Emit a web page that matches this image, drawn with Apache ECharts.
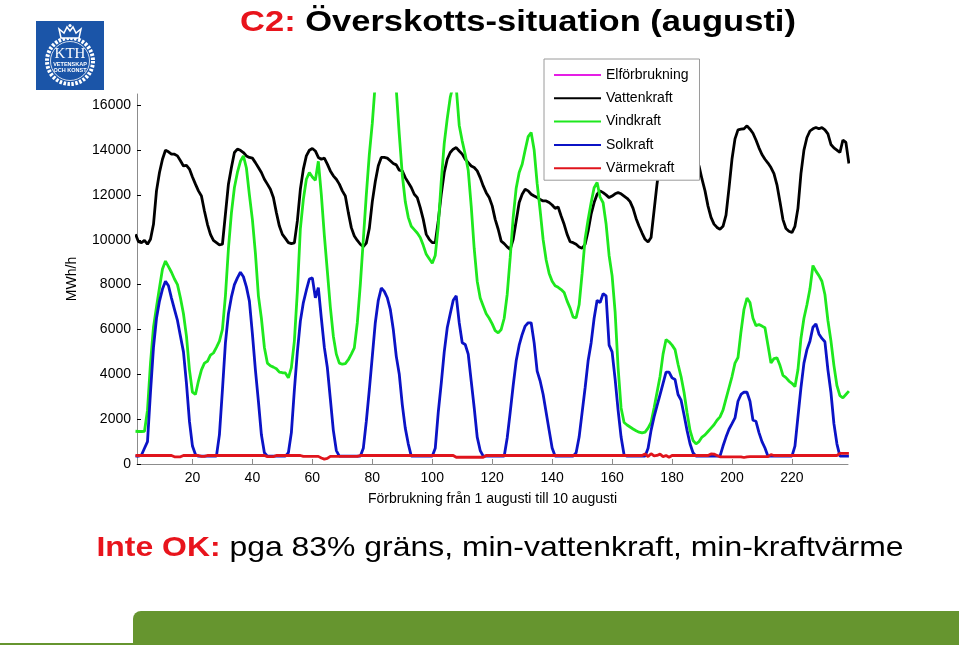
<!DOCTYPE html>
<html>
<head>
<meta charset="utf-8">
<script src="https://cdn.jsdelivr.net/npm/echarts@6.0.0/dist/echarts.min.js"></script>
<style>
html,body{margin:0;padding:0;background:#fff;}
#chart{width:959px;height:645px;}
</style>
</head>
<body>
<div id="chart"></div>
<script>
// ---- data (hourly values, 1 Aug – 10 Aug) ----
const seriesNames = ['Elförbrukning', 'Vattenkraft', 'Vindkraft', 'Solkraft', 'Värmekraft'];
const xTickValues = [20, 40, 60, 80, 100, 120, 140, 160, 180, 200, 220];
const yTickValues = [0, 2000, 4000, 6000, 8000, 10000, 12000, 14000, 16000];

const elforbrukning = [];

const vattenkraft = [
10240,9914,9870,9974,9800,10020,10690,12180,13000,13590,
13990,13920,13820,13815,13740,13520,13290,13320,13150,12800,
12480,12180,11950,11280,10690,10240,9970,9870,9770,9800,
11140,12480,13220,13890,14040,13990,13890,13740,13670,13640,
13440,13220,13000,12700,12480,12250,11880,11210,10610,10240,
10060,9870,9830,9860,10840,12250,13150,13740,13990,14070,
13960,13670,13590,13640,13370,13070,12850,12700,12480,12180,
11950,11210,10540,10170,9970,9800,9690,9850,10500,11700,
12600,13300,13670,13670,13640,13520,13400,13340,13100,13070,
12770,12550,12330,12030,11880,11430,10910,10240,10020,9870,
9870,10840,12030,13000,13590,13890,14040,14110,13960,13820,
13590,13440,13290,13220,13070,12770,12400,12100,11880,11510,
10910,10470,9940,9830,9680,9570,10020,10840,11660,12030,
12250,12180,12030,11950,11880,11800,11730,11730,11660,11550,
11400,11460,11060,10690,10240,9910,9870,9800,9680,9620,
9800,10390,11140,11660,12030,12180,12100,12000,11880,11950,
12050,12100,12050,11950,11850,11700,11400,10950,10600,10300,
10020,9900,10100,11300,12500,13500,14100,14350,14400,14300,
14100,13900,13800,13750,13700,13600,13500,13400,13300,12700,
12180,11500,11000,10700,10550,10470,10600,11100,12300,13600,
14500,14900,14930,14950,15080,14930,14750,14450,14100,13800,
13590,13420,13220,12950,12450,11700,10900,10500,10380,10320,
10600,11400,12950,14000,14560,14850,14950,15010,14950,15000,
14900,14720,14250,14100,14000,13890,14450,14340,13400];

const vindkraft = [
1460,1450,1450,1460,2400,4500,6100,7000,7860,8700,
9050,8800,8550,8250,8000,7400,6700,5700,4200,3200,
3100,3700,4200,4500,4580,4850,4950,5200,5480,6000,
7500,9600,11200,12330,13000,13500,13740,13200,12000,10900,
9400,7500,6500,5200,4500,4380,4320,4250,4100,4070,
4060,3840,4300,5480,7700,10500,11800,12700,13000,12800,
12650,13500,12000,10200,8600,7000,5700,4900,4500,4450,
4480,4650,4900,5180,6300,8000,10000,12000,13800,15200,
17000,18500,19500,20000,20000,19500,18500,16700,14700,12900,
11700,11000,10600,10450,10300,10100,9750,9350,9150,8950,
9300,10600,12600,14300,15400,16350,16900,16800,15100,14400,
13800,13100,11500,9600,8150,7400,7050,6700,6500,6250,
5950,5850,6000,6500,7560,9200,11000,12300,13000,13370,
14000,14600,14780,14000,12500,11300,10000,9100,8500,8150,
7950,7880,7780,7650,7265,6950,6550,6520,7100,8500,
10050,10900,11650,12320,12550,11900,11650,10700,9300,8400,
6800,4300,2500,1850,1740,1650,1560,1480,1420,1384,
1420,1600,1850,2500,3200,3900,4900,5550,5450,5300,
5100,4450,3900,3200,2300,1500,1050,900,1000,1200,
1300,1450,1600,1750,1950,2100,2400,2900,3400,3900,
4500,4750,5900,6900,7400,7200,6500,6170,6220,6150,
6073,5300,4500,4700,4734,4400,3950,3850,3700,3600,
3450,4200,5600,6500,7100,7800,8850,8600,8400,8150,
7560,6400,5500,4400,3500,3050,2950,3100,3250];

const solkraft = [
350,350,400,700,1000,3200,5200,6500,7265,7800,
8150,7950,7400,6900,6400,5700,5000,3600,1900,800,
420,350,350,350,350,350,350,350,1310,3300,
5400,6700,7450,8000,8300,8550,8350,7900,7265,5800,
4200,2800,1300,500,350,350,350,350,350,350,
350,500,1400,3300,5000,6371,7200,7750,8250,8300,
7414,7860,6500,5200,4300,2900,1500,600,350,350,
350,350,350,350,350,350,700,1900,3300,4800,
6300,7300,7850,7700,7414,6900,6000,4800,4000,2650,
1600,900,350,350,350,350,350,350,350,350,
700,2300,3600,5000,6073,6700,7300,7500,6300,5404,
5329,4900,3700,2500,1200,600,350,350,350,350,
350,350,350,350,1161,2300,3500,4600,5300,5776,
6150,6297,6297,5400,4138,3700,3100,2300,1500,714,
350,350,350,350,350,350,350,500,1200,2300,
3400,4600,5400,6500,7300,7200,7600,7500,5300,5000,
3800,2400,1200,400,350,350,350,350,350,350,
350,700,1500,2100,2600,3096,3600,4100,4100,3840,
3766,3100,2850,2200,1500,900,500,350,350,350,
350,350,350,350,350,350,800,1200,1550,1800,
2054,2800,3100,3200,3200,2800,1950,1905,1400,1000,
714,350,350,350,350,350,350,350,350,350,
800,2100,3394,4500,5100,5478,6100,6250,5800,5600,
5450,4200,3200,1800,900,350,350,350,350];

const varmekraft = [
380,380,380,380,380,380,380,380,380,380,
380,380,380,320,320,320,380,380,380,380,
380,380,340,340,380,380,380,380,380,380,
380,380,380,380,380,380,380,380,380,380,
380,380,380,380,330,330,330,380,380,380,
380,380,380,380,380,380,340,340,340,340,
340,340,270,220,250,340,340,340,340,340,
340,340,340,340,340,380,380,380,380,380,
380,380,380,380,380,380,380,380,380,380,
380,380,380,380,380,380,380,380,380,380,
380,380,380,380,380,380,380,300,300,300,
300,300,300,300,300,300,300,380,380,380,
380,380,380,380,380,380,380,380,380,380,
380,380,380,380,380,380,380,380,380,380,
380,380,380,380,380,380,380,380,380,380,
380,380,380,380,380,380,380,380,380,380,
380,380,380,380,380,380,380,380,380,380,
450,330,460,360,380,440,330,380,300,380,
380,380,380,380,380,380,380,380,380,380,
380,380,450,440,380,320,320,320,320,320,
320,320,320,290,320,330,330,330,330,330,
330,330,420,380,380,380,380,380,380,380,
380,380,380,380,380,380,380,380,380,380,
380,380,380,380,380,470,470,470,470];

// ---- build ----
const hours = vattenkraft.map((_, i) => i + 1);
const pairs = arr => arr.map((v, i) => [hours[i], v]);

const FONT = '"Liberation Sans", Arial, sans-serif';
const colors = ['#e51ee5', '#000000', '#1ee81e', '#0b13c6', '#e0141c'];
const values = [elforbrukning, vattenkraft, vindkraft, solkraft, varmekraft];

const chart = echarts.init(document.getElementById('chart'));
chart.setOption({
  animation: false,
  backgroundColor: '#ffffff',
  textStyle: { fontFamily: FONT },
  grid: { left: 137, right: 111, top: 94, bottom: 181 },
  legend: {
    orient: 'vertical',
    left: 544, top: 59,
    padding: [9, 11, 5, 9],
    itemWidth: 47, itemHeight: 14, itemGap: 9.3,
    itemStyle: { opacity: 0 },
    backgroundColor: '#ffffff',
    borderColor: '#9a9a9a', borderWidth: 1,
    textStyle: { fontSize: 14, color: '#000', fontFamily: FONT },
    data: seriesNames
  },
  xAxis: {
    type: 'value', min: 1.5, max: 238.7,
    name: 'Förbrukning från 1 augusti till 10 augusti',
    nameLocation: 'middle', nameGap: 28,
    nameTextStyle: { fontSize: 14, color: '#000', fontFamily: FONT },
    axisLine: { show: true, lineStyle: { color: '#8c8c8c', width: 1 } },
    axisTick: { show: true, inside: true, length: 5, customValues: xTickValues, lineStyle: { color: '#8c8c8c' } },
    axisLabel: { customValues: xTickValues, fontSize: 14, color: '#000', margin: 7, fontFamily: FONT,
      formatter: v => String(v) },
    splitLine: { show: false }
  },
  yAxis: {
    type: 'value', min: 0, max: 16500,
    name: 'MWh/h',
    nameLocation: 'middle', nameRotate: 90, nameGap: 58,
    nameTextStyle: { fontSize: 14, color: '#000', fontFamily: FONT },
    axisLine: { show: true, lineStyle: { color: '#8c8c8c', width: 1 } },
    axisTick: { show: true, inside: true, length: 4, customValues: yTickValues, lineStyle: { color: '#000' } },
    axisLabel: { customValues: yTickValues, fontSize: 14, color: '#000', margin: 6, fontFamily: FONT,
      formatter: v => String(v) },
    splitLine: { show: false }
  },
  series: seriesNames.map((n, k) => ({
    name: n, type: 'line', symbol: 'none', showSymbol: false,
    data: pairs(values[k]),
    clip: true,
    color: colors[k],
    lineStyle: { color: colors[k], width: 2.8 },
    z: 2 + k * 0.01
  })),
  graphic: [
    // title
    { type: 'text', x: 518, y: 23, scaleX: 1.15, z: 10,
      style: {
        text: '{r|C2:} Överskotts-situation (augusti)',
        fontFamily: FONT, fontSize: 30, fontWeight: 'bold', fill: '#000',
        align: 'center', verticalAlign: 'middle',
        rich: { r: { fill: '#e8141c', fontFamily: FONT, fontSize: 30, fontWeight: 'bold' } }
      } },
    // conclusion
    { type: 'text', x: 500, y: 548, scaleX: 1.14, z: 10,
      style: {
        text: '{r|Inte OK:} pga 83% gräns, min-vattenkraft, min-kraftvärme',
        fontFamily: FONT, fontSize: 28, fill: '#000',
        align: 'center', verticalAlign: 'middle',
        rich: { r: { fill: '#e8141c', fontFamily: FONT, fontSize: 28, fontWeight: 'bold' } }
      } },
    // footer band
    { type: 'rect', z: 1, shape: { x: 133, y: 611, width: 826, height: 34, r: [8, 0, 0, 0] }, style: { fill: '#66952f' } },
    { type: 'rect', z: 1, shape: { x: 0, y: 643, width: 136, height: 2 }, style: { fill: '#66952f' } },
    // KTH logo
    { type: 'rect', z: 1, shape: { x: 36, y: 21, width: 68, height: 69 }, style: { fill: '#1b55a8' } },
    { type: 'circle', z: 2, shape: { cx: 70, cy: 61, r: 23 }, style: { fill: 'none', stroke: '#ffffff', lineWidth: 4, lineDash: [2.5, 1.5] } },
    { type: 'circle', z: 2, shape: { cx: 70, cy: 61, r: 19.5 }, style: { fill: 'none', stroke: '#ffffff', lineWidth: 0.8 } },
    { type: 'polygon', z: 3, shape: { points: [[61,38],[59,29],[64,33],[67,27],[70,31],[73,27],[76,33],[81,29],[79,38]] }, style: { fill: '#1b55a8', stroke: '#ffffff', lineWidth: 1.5 } },
    { type: 'circle', z: 3, shape: { cx: 70, cy: 25.5, r: 1.6 }, style: { fill: '#ffffff' } },
    { type: 'text', z: 3, x: 70, y: 54, style: { text: 'KTH', fontFamily: '"Liberation Serif", "DejaVu Serif", serif', fontSize: 15, fill: '#ffffff', align: 'center', verticalAlign: 'middle' } },
    { type: 'text', z: 3, x: 70, y: 64, style: { text: 'VETENSKAP', fontFamily: FONT, fontSize: 5.5, fontWeight: 'bold', fill: '#ffffff', align: 'center', verticalAlign: 'middle' } },
    { type: 'text', z: 3, x: 70, y: 70, style: { text: 'OCH KONST', fontFamily: FONT, fontSize: 5.5, fontWeight: 'bold', fill: '#ffffff', align: 'center', verticalAlign: 'middle' } }
  ]
});
</script>
</body>
</html>
